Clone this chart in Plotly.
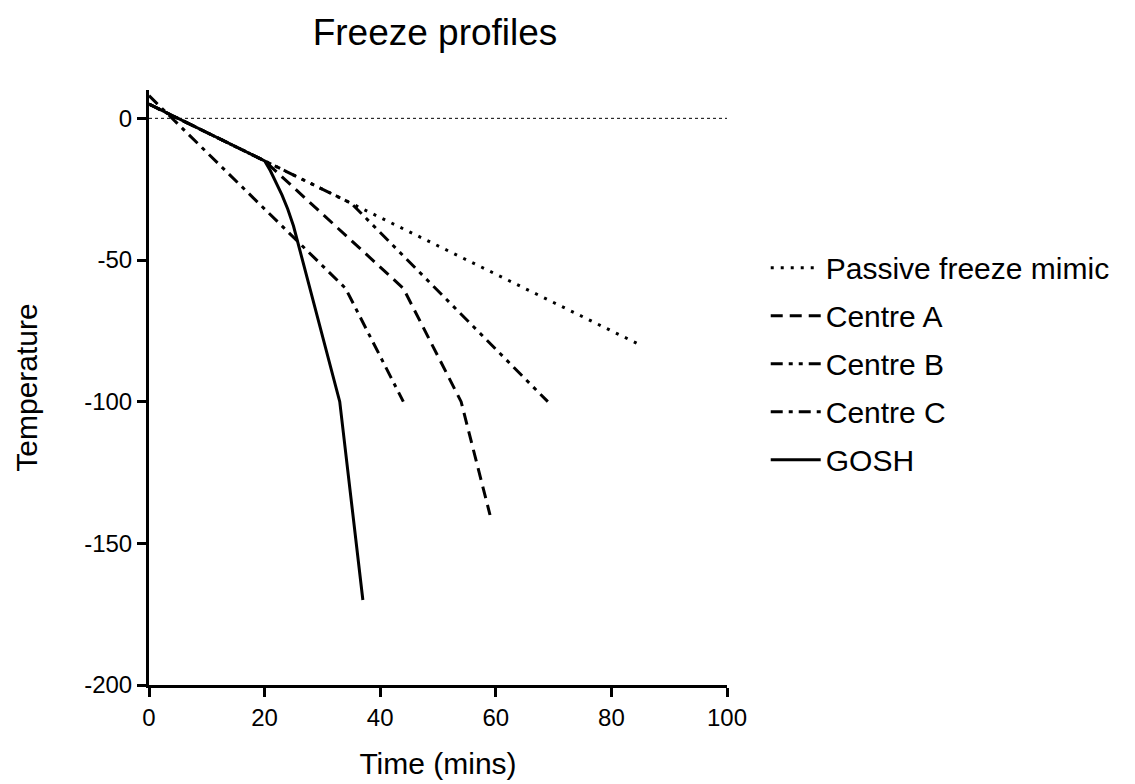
import plotly.graph_objects as go

# Freeze profile data (time in mins, temperature in degC)
passive_t = [0, 85]
passive_temp = [5, -80]

centre_a_t = [0, 20, 44, 54, 59]
centre_a_temp = [5, -15, -60, -100, -140]

centre_b_t = [0, 20, 35, 69]
centre_b_temp = [5, -15, -30, -100]

centre_c_t = [0, 34, 44]
centre_c_temp = [8, -60, -100]

gosh_t = [0, 20, 21, 22, 23, 24, 25, 33, 37]
gosh_temp = [5, -15, -18.5, -22.5, -27, -32, -38, -100, -170]

x_ticks = [0, 20, 40, 60, 80, 100]
y_ticks = [0, -50, -100, -150, -200]

series = [
    ('Passive freeze mimic', passive_t, passive_temp, '3px,7px'),
    ('Centre A', centre_a_t, centre_a_temp, '12px,7px'),
    ('Centre B', centre_b_t, centre_b_temp, '12px,6px,4px,6px,4px,6px'),
    ('Centre C', centre_c_t, centre_c_temp, '12px,6px,4px,6px'),
    ('GOSH', gosh_t, gosh_temp, 'solid'),
]

fig = go.Figure()
for name, t, temp, dash in series:
    fig.add_trace(go.Scatter(
        x=t, y=temp, mode='lines', name=name, legendgroup=name,
        line=dict(color='black', width=3, dash=dash)
    ))

# dotted reference line at 0 degC
fig.add_hline(y=0, line=dict(color='black', width=1, dash='3px,3px'))

font = 'Arial, Liberation Sans, sans-serif'
fig.update_layout(
    width=1135, height=784,
    margin=dict(l=141, r=416, t=82, b=107, autoexpand=False),
    plot_bgcolor='white', paper_bgcolor='white',
    font=dict(family=font, size=22, color='black'),
    title=dict(text='Freeze profiles', x=427 / 1135, xanchor='center', y=0.969,
               yanchor='middle', font=dict(size=37, color='black')),
    legend=dict(x=1.067, y=0.54, yanchor='middle', itemwidth=50,
                font=dict(size=30), tracegroupgap=6, bgcolor='rgba(0,0,0,0)'),
    showlegend=True,
)
fig.update_xaxes(
    range=[0, 100], tickvals=x_ticks, ticktext=[str(v) for v in x_ticks],
    showline=True, linecolor='black', linewidth=3, showgrid=False, zeroline=False,
    ticks='outside', ticklen=9, tickwidth=3, tickcolor='black',
    title=dict(text='Time (mins)', font=dict(size=30), standoff=24),
    tickfont=dict(size=24),
)
fig.update_yaxes(
    range=[-200, 10], tickvals=y_ticks, ticktext=[str(v) for v in y_ticks],
    showline=True, linecolor='black', linewidth=3, showgrid=False, zeroline=False,
    ticks='outside', ticklen=9, tickwidth=3, tickcolor='black',
    title=dict(text='Temperature', font=dict(size=30), standoff=38),
    tickfont=dict(size=24),
)

fig.write_html("out.html")
